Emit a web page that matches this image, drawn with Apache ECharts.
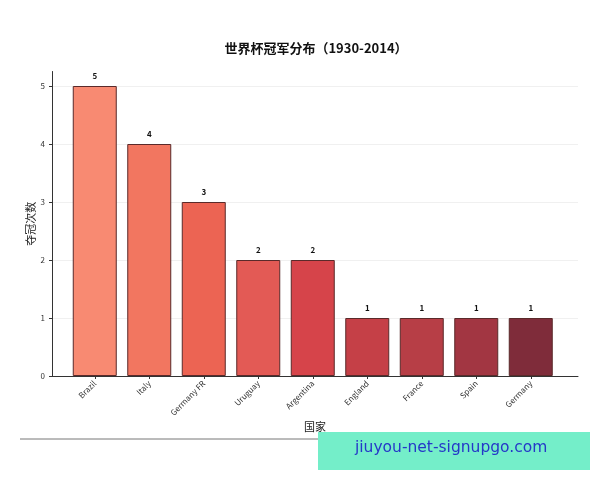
<!DOCTYPE html>
<html><head><meta charset="utf-8">
<script src="https://cdn.jsdelivr.net/npm/echarts@6/dist/echarts.min.js"></script>
<style>html,body{margin:0;padding:0;background:#fff}#c{width:600px;height:480px}</style>
</head><body><div id="c"></div>
<script>
const countries = ['Brazil','Italy','Germany FR','Uruguay','Argentina','England','France','Spain','Germany'];
const titles = [5,4,3,2,2,1,1,1,1];
const barColors = ['#F88A72','#F27660','#EC6453','#E35A55','#D6444A','#C54047','#B73E46','#A23642','#7F2C3A'];
const yTicks = [0,1,2,3,4,5];

const FONT = '"Noto Sans CJK SC","Noto Sans",sans-serif';
const chart = echarts.init(document.getElementById('c'));
const gTop = 71.5, gBottom = 104;
chart.setOption({
  animation:false,
  title:{text:'世界杯冠军分布（1930-2014）',left:311,top:37,textAlign:'center',
    textStyle:{fontSize:13,fontWeight:'bold',color:'#111',fontFamily:FONT}},
  grid:[
    {left:52,right:22,top:gTop,bottom:gBottom},
    {left:67.5,width:490.5,top:gTop,bottom:gBottom},
    {left:52,right:22,top:86,bottom:gBottom}
  ],
  xAxis:[
    {gridIndex:0,type:'value',min:0,max:1,axisLine:{show:true,lineStyle:{color:'#333',width:1}},
     axisTick:{show:false},axisLabel:{show:false},splitLine:{show:false},
     name:'国家',nameLocation:'middle',nameGap:45,
     nameTextStyle:{fontSize:11,color:'#222',fontFamily:FONT}},
    {gridIndex:1,type:'category',data:countries,axisLine:{show:false},
     axisTick:{show:true,alignWithLabel:true,length:3,lineStyle:{color:'#333'}},
     axisLabel:{rotate:45,fontSize:8,color:'#333',margin:6,interval:0,fontFamily:FONT}},
    {gridIndex:2,type:'value',min:0,max:1,show:false}
  ],
  yAxis:[
    {gridIndex:0,type:'value',min:0,max:5.25,
     axisLine:{show:true,lineStyle:{color:'#333',width:1}},
     axisTick:{show:true,length:3,customValues:yTicks,lineStyle:{color:'#333'}},
     axisLabel:{fontSize:8,color:'#333',margin:7,fontFamily:FONT,customValues:yTicks},
     splitLine:{show:false},
     name:'夺冠次数',nameLocation:'middle',nameGap:16,nameRotate:90,nameMoveOverlap:false,
     nameTextStyle:{fontSize:11,color:'#222',fontFamily:FONT}},
    {gridIndex:1,type:'value',min:0,max:5.25,show:false},
    {gridIndex:2,type:'value',min:0,max:5,interval:1,
     axisLine:{show:false},axisTick:{show:false},axisLabel:{show:false},
     splitLine:{show:true,lineStyle:{color:'#f0f0f0',width:1}}}
  ],
  series:[{
    type:'bar',xAxisIndex:1,yAxisIndex:1,barWidth:44,z:3,
    data:titles.map((v,i)=>({value:v,itemStyle:{color:barColors[i]}})),
    itemStyle:{borderColor:'#5a2a2a',borderWidth:1},
    label:{show:true,position:'top',distance:6,fontSize:8,fontWeight:'bold',color:'#111',fontFamily:FONT}
  }],
  graphic:[
    {type:'line',shape:{x1:20,y1:439,x2:578,y2:439},style:{stroke:'#777',lineWidth:1}},
    {type:'rect',shape:{x:318,y:432,width:272,height:38},style:{fill:'#74EEC9'}},
    {type:'text',left:355,top:440,style:{text:'jiuyou-net-signupgo.com',fontSize:15.5,fill:'#2538C8',fontFamily:'"DejaVu Sans",sans-serif'}}
  ]
});
</script></body></html>
